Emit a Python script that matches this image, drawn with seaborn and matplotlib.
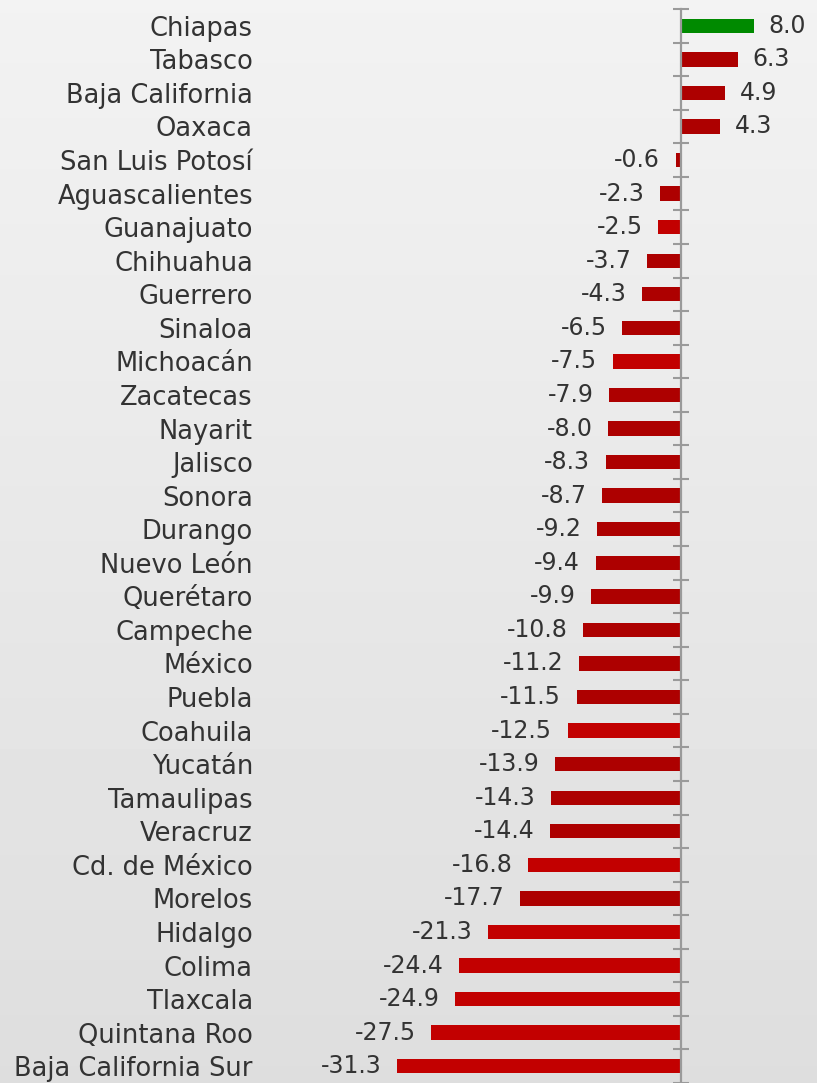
import numpy as np
import pandas as pd
import matplotlib.pyplot as plt
import seaborn as sns

states = [
    "Chiapas", "Tabasco", "Baja California", "Oaxaca", "San Luis Potosí",
    "Aguascalientes", "Guanajuato", "Chihuahua", "Guerrero", "Sinaloa",
    "Michoacán", "Zacatecas", "Nayarit", "Jalisco", "Sonora", "Durango",
    "Nuevo León", "Querétaro", "Campeche", "México", "Puebla", "Coahuila",
    "Yucatán", "Tamaulipas", "Veracruz", "Cd. de México", "Morelos",
    "Hidalgo", "Colima", "Tlaxcala", "Quintana Roo", "Baja California Sur",
]
values = [
    8.0, 6.3, 4.9, 4.3, -0.6, -2.3, -2.5, -3.7, -4.3, -6.5, -7.5, -7.9,
    -8.0, -8.3, -8.7, -9.2, -9.4, -9.9, -10.8, -11.2, -11.5, -12.5, -13.9,
    -14.3, -14.4, -16.8, -17.7, -21.3, -24.4, -24.9, -27.5, -31.3,
]
# bars drawn in the brighter red in the original
bright = ["Guanajuato", "Michoacán", "Coahuila", "Cd. de México", "Hidalgo",
          "Colima", "Tlaxcala", "Quintana Roo", "Baja California Sur"]

df = pd.DataFrame({"state": states, "value": values})
palette = {}
for s, v in zip(states, values):
    if v > 0 and s == "Chiapas":
        palette[s] = "#008a00"
    elif s in bright:
        palette[s] = "#c20000"
    else:
        palette[s] = "#ad0000"

sns.set_style("white")
plt.rcParams["font.family"] = ["DejaVu Sans"]

fig = plt.figure(figsize=(8.17, 10.83), dpi=100)

# soft gray paper background
bg = fig.add_axes([0, 0, 1, 1])
grad = np.linspace(0.95, 0.87, 256).reshape(-1, 1)
bg.imshow(grad, aspect="auto", cmap="gray", vmin=0, vmax=1, extent=[0, 1, 0, 1])
bg.axis("off")

ax = fig.add_axes([262 / 817, 0, 555 / 817, 1 - 9 / 1083])
ax.patch.set_alpha(0)
sns.barplot(data=df, y="state", x="value", hue="state", palette=palette,
            legend=False, width=0.43, ax=ax, saturation=1, linewidth=0)

n = len(states)
ax.set_xlim(-46.15, 14.98)
ax.set_ylim(n - 0.5, -0.5)
ax.set_xlabel("")
ax.set_ylabel("")
ax.set_xticks([])

for side in ["top", "bottom", "left"]:
    ax.spines[side].set_visible(False)
ax.spines["right"].set_position(("data", 0))
ax.spines["right"].set_color("#9a9a9a")
ax.spines["right"].set_linewidth(1.6)

ax.set_yticks(range(n))
ax.set_yticklabels(states)
ax.set_yticks(np.arange(n + 1) - 0.5, minor=True)
ax.tick_params(axis="y", which="major", length=0, pad=6.5,
               labelsize=18.5, labelcolor="#333333")
ax.tick_params(axis="y", which="minor", left=False, right=True,
               direction="inout", length=11.5, width=1.5, color="#9a9a9a")

for i, v in enumerate(values):
    if v > 0:
        ax.text(v + 1.6, i, f"{v:.1f}", ha="left", va="center",
                fontsize=17, color="#333333")
    else:
        ax.text(v - 1.7, i, f"{v:.1f}", ha="right", va="center",
                fontsize=17, color="#333333")

fig.savefig("out.png", dpi=100)
